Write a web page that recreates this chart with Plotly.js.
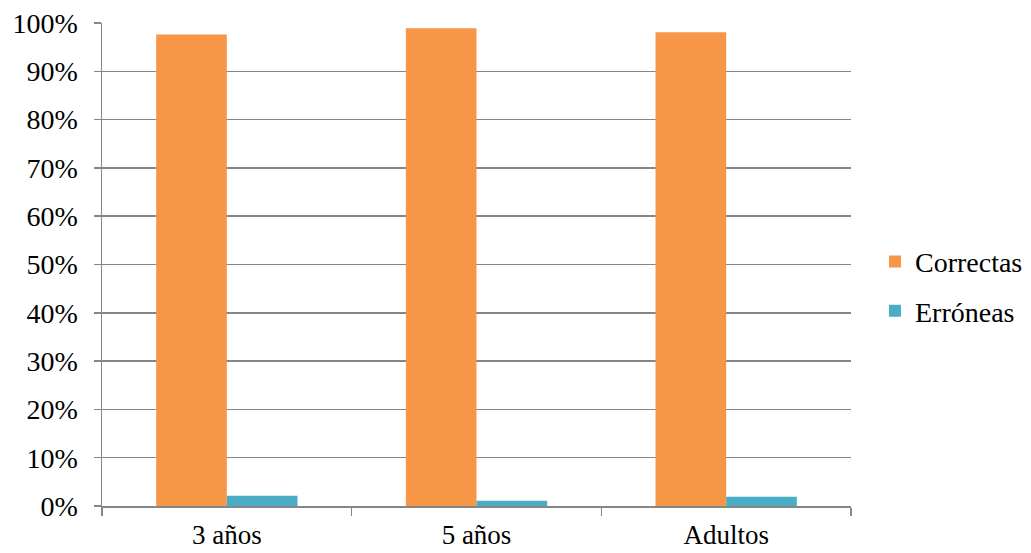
<!DOCTYPE html>
<html>
<head>
<meta charset="utf-8">
<script src="https://cdn.plot.ly/plotly-3.0.1.min.js"></script>
<style>
html,body{margin:0;padding:0;background:#fff;}
#chart{width:1031px;height:553px;}
</style>
</head>
<body>
<div id="chart"></div>
<script>
const categories = ["3 años", "5 años", "Adultos"];
const correctas = [0.976, 0.989, 0.981];
const erroneas = [0.021, 0.011, 0.019];
const seriesNames = ["Correctas", "Erróneas"];
const yTicks = [0, 0.1, 0.2, 0.3, 0.4, 0.5, 0.6, 0.7, 0.8, 0.9, 1.0];
const yTickLabels = ["0%", "10%", "20%", "30%", "40%", "50%", "60%", "70%", "80%", "90%", "100%"];

const font = {family: "Liberation Serif", size: 28, color: "#000"};
const xFont = {family: "Liberation Serif", size: 27, color: "#000"};

const data = [
  {type: "bar", name: seriesNames[0], x: categories, y: correctas, marker: {color: "#F79646"}, legendgroup: "a", hoverinfo: "none"},
  {type: "bar", name: seriesNames[1], x: categories, y: erroneas, marker: {color: "#4BACC6"}, legendgroup: "b", hoverinfo: "none"}
];

const layout = {
  width: 1031, height: 553,
  margin: {l: 102, r: 180, t: 23, b: 47, autoexpand: false},
  paper_bgcolor: "#fff", plot_bgcolor: "#fff",
  font: font,
  barmode: "group",
  bargap: 0.434,
  bargroupgap: 0,
  showlegend: true,
  legend: {x: 1.032, xanchor: "left", y: 0.455, yanchor: "middle", font: font, tracegroupgap: 10, traceorder: "grouped", itemwidth: 30, bgcolor: "rgba(0,0,0,0)"},
  xaxis: {
    type: "category",
    showline: true, linecolor: "#868686", linewidth: 1.5,
    ticks: "outside", tickson: "boundaries", ticklen: 8, tickcolor: "#868686", tickwidth: 1.5,
    ticklabelstandoff: 4,
    showgrid: false, zeroline: false,
    tickfont: xFont
  },
  yaxis: {
    range: [0, 1],
    tickvals: yTicks, ticktext: yTickLabels,
    showline: true, linecolor: "#868686", linewidth: 1.5,
    ticks: "outside", ticklen: 7, tickcolor: "#868686", tickwidth: 1.5,
    ticklabelstandoff: 10,
    showgrid: true, gridcolor: "#868686", gridwidth: 1.5,
    zeroline: false,
    tickfont: font
  }
};

Plotly.newPlot("chart", data, layout, {displayModeBar: false, staticPlot: true});
</script>
</body>
</html>
